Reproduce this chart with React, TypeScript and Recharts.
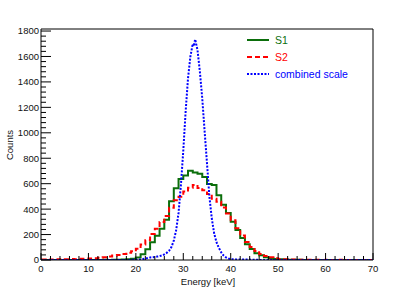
import { LineChart, Line, XAxis, YAxis, ReferenceLine, Legend } from 'recharts'

// histogram binning: 70 bins of 1 keV starting at 0
const BIN_WIDTH = 1
const X_MAX = 70
const Y_MAX = 1816

// S1 counts per 1 keV bin (0-1 ... 69-70)
const s1Counts = [
  0, 0, 0, 0, 0, 0, 0, 0, 0, 0,
  0, 0, 0, 1, 0, 1, 2, 3, 6, 10,
  20, 45, 85, 140, 190, 245, 316, 462, 565, 636,
  664, 702, 688, 678, 652, 598, 590, 510, 434, 370,
  300, 236, 172, 124, 86, 54, 37, 22, 14, 8,
  5, 3, 2, 1, 1, 0, 0, 0, 0, 0,
  0, 0, 0, 0, 0, 0, 0, 0, 0, 0,
]

// S2 counts per 1 keV bin
const s2Counts = [
  3, 2, 4, 5, 4, 6, 7, 6, 9, 10,
  12, 14, 17, 21, 28, 35, 40, 48, 57, 68,
  88, 122, 155, 205, 245, 298, 345, 410, 470, 498,
  538, 568, 590, 566, 548, 518, 482, 458, 412, 366,
  312, 250, 192, 142, 102, 70, 48, 32, 21, 13,
  8, 6, 4, 3, 2, 2, 1, 1, 1, 0,
  1, 0, 0, 1, 0, 0, 0, 0, 0, 0,
]

// combined scale, finely binned
const combinedEnergy = [
  0, 19, 20, 21, 21.5, 22, 22.5, 23, 23.5, 24, 24.5, 25, 25.5, 26, 26.5, 27, 27.5,
  28, 28.5, 29, 29.5, 30, 30.5, 31, 31.5, 32, 32.2, 32.5, 33, 33.5, 34, 34.5,
  35, 35.5, 36, 36.5, 37, 37.5, 38, 38.5, 39, 39.5, 40, 41, 42, 43, 44, 45, 46, 47, 70,
]
const combinedCounts = [
  0, 1, 2, 4, 8, 12, 16, 20, 22, 24, 27, 30, 36, 44, 56, 72, 102,
  152, 235, 370, 590, 860, 1170, 1430, 1600, 1700, 1680, 1735, 1650, 1480, 1270, 1010,
  760, 500, 330, 210, 140, 95, 60, 35, 20, 12, 7, 5, 4, 3, 3, 2, 1, 0, 0,
]

const xTicks = [
  0, 2, 4, 6, 8, 10, 12, 14, 16, 18, 20, 22, 24, 26, 28, 30, 32, 34,
  36, 38, 40, 42, 44, 46, 48, 50, 52, 54, 56, 58, 60, 62, 64, 66, 68, 70,
]
const yTicks = [
  0, 40, 80, 120, 160, 200, 240, 280, 320, 360, 400, 440, 480, 520, 560, 600,
  640, 680, 720, 760, 800, 840, 880, 920, 960, 1000, 1040, 1080, 1120, 1160, 1200,
  1240, 1280, 1320, 1360, 1400, 1440, 1480, 1520, 1560, 1600, 1640, 1680, 1720, 1760, 1800,
]

const seriesNames = ['S1', 'S2', 'combined scale']
const GREEN = '#0b6e0b'
const RED = '#ff0000'
const BLUE = '#0000ff'
const FONT = '"Liberation Sans", Arial, sans-serif'

// turn bin contents into step points (last edge repeated so the final bin is closed)
const toSteps = (counts: number[]) => {
  const pts = counts.map((c, i) => ({ x: i * BIN_WIDTH, y: c }))
  pts.push({ x: counts.length * BIN_WIDTH, y: counts[counts.length - 1] })
  return pts
}

const s1Data = toSteps(s1Counts)
const s2Data = toSteps(s2Counts)
const combinedData = combinedEnergy.map((e, i) => ({ x: e, y: combinedCounts[i] }))

const XTick = ({ x, y, payload }: any) => {
  const major = payload.value % 10 === 0
  return (
    <g>
      <line x1={x} y1={y} x2={x} y2={y - (major ? 7 : 4)} stroke="#000" strokeWidth={1} />
      {major && (
        <text x={x} y={y + 12} textAnchor="middle" fontSize={9.5} fontFamily={FONT} fill="#111">
          {payload.value}
        </text>
      )}
    </g>
  )
}

const YTick = ({ x, y, payload }: any) => {
  const major = payload.value % 200 === 0
  return (
    <g>
      <line x1={x} y1={y} x2={x + (major ? 10 : 5)} y2={y} stroke="#000" strokeWidth={1} />
      {major && (
        <text x={x - 2} y={y + 3.4} textAnchor="end" fontSize={9.5} fontFamily={FONT} fill="#111">
          {payload.value}
        </text>
      )}
    </g>
  )
}

const legendItems = [
  { name: seriesNames[0], color: GREEN, dash: undefined },
  { name: seriesNames[1], color: RED, dash: '5 3' },
  { name: seriesNames[2], color: BLUE, dash: '2 1.5' },
]

const HistLegend = () => (
  <svg width={160} height={56}>
    {legendItems.map((it, i) => (
      <g key={it.name}>
        <line x1={7} y1={10 + i * 17} x2={29} y2={10 + i * 17} stroke={it.color} strokeWidth={2} strokeDasharray={it.dash} />
        <text x={35} y={13.8 + i * 17} fontSize={10.5} fontFamily={FONT} fill={it.color}>
          {it.name}
        </text>
      </g>
    ))}
  </svg>
)

export default function App() {
  return (
    <div style={{ position: 'absolute', left: 0, top: 0, width: 415, height: 289, background: '#fff' }}>
      <LineChart width={415} height={289} margin={{ top: 29, right: 42, bottom: 0, left: 0 }}>
        <XAxis
          dataKey="x"
          type="number"
          domain={[0, X_MAX]}
          ticks={xTicks}
          interval={0}
          height={29}
          tickSize={0}
          tickMargin={0}
          tickLine={false}
          tick={<XTick />}
          axisLine={{ stroke: '#000' }}
          allowDataOverflow
          label={{
            content: () => (
              <text x={208} y={284.5} textAnchor="middle" fontSize={9.5} fontFamily={FONT} fill="#111">
                Energy [keV]
              </text>
            ),
          }}
        />
        <YAxis
          type="number"
          domain={[0, Y_MAX]}
          ticks={yTicks}
          interval={0}
          width={41}
          tickSize={0}
          tickMargin={0}
          tickLine={false}
          tick={<YTick />}
          axisLine={{ stroke: '#000' }}
          allowDataOverflow
          label={{
            content: () => (
              <text x={13} y={145} transform="rotate(-90 13 145)" textAnchor="middle" fontSize={9.5} fontFamily={FONT} fill="#111">
                Counts
              </text>
            ),
          }}
        />
        {/* frame */}
        <ReferenceLine y={Y_MAX} stroke="#000" strokeWidth={1} />
        <ReferenceLine x={X_MAX} stroke="#000" strokeWidth={1} />

        <Line data={s1Data} dataKey="y" name={seriesNames[0]} type="stepAfter" stroke={GREEN} strokeWidth={2} dot={false} activeDot={false} isAnimationActive={false} />
        <Line data={s2Data} dataKey="y" name={seriesNames[1]} type="stepAfter" stroke={RED} strokeWidth={2} strokeDasharray="5 3" dot={false} activeDot={false} isAnimationActive={false} />
        <Line data={combinedData} dataKey="y" name={seriesNames[2]} type="linear" stroke={BLUE} strokeWidth={2} strokeDasharray="2 1.5" dot={false} activeDot={false} isAnimationActive={false} />

        <Legend
          layout="vertical"
          align="center"
          verticalAlign="middle"
          content={<HistLegend />}
          wrapperStyle={{ position: 'absolute', left: 240, top: 30, width: 160, height: 56 }}
        />
      </LineChart>
    </div>
  )
}
